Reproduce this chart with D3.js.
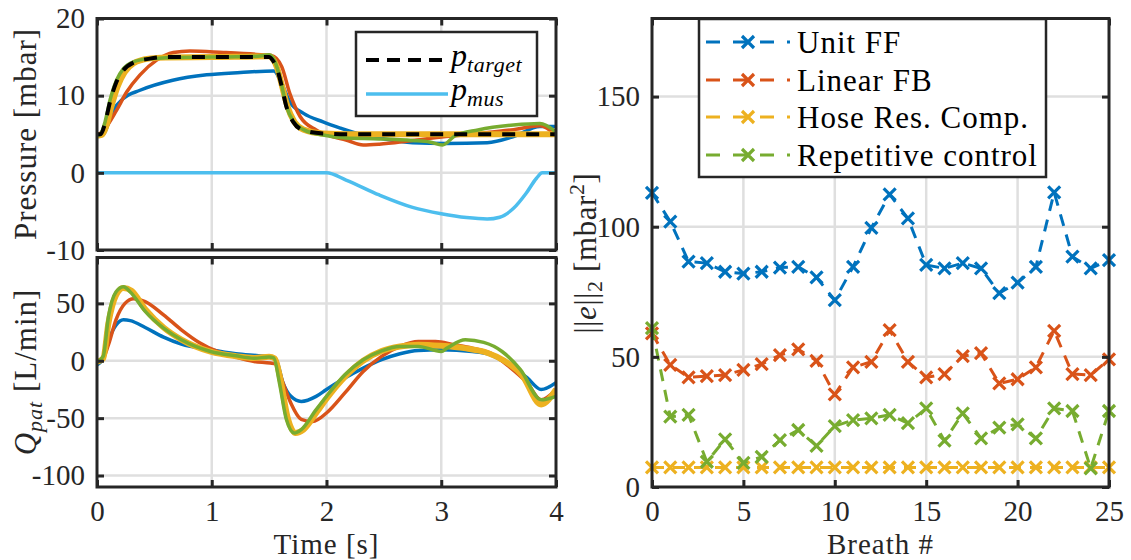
<!DOCTYPE html>
<html>
<head>
<meta charset="utf-8">
<script src="https://cdn.jsdelivr.net/npm/d3@7"></script>
<style>
  html, body { margin: 0; padding: 0; background: #fff; }
  svg { display: block; }
  svg text { font-family: "Liberation Serif", "DejaVu Serif", serif; }
</style>
</head>
<body>
<svg id="chart" width="1131" height="560"></svg>
<script>
// ---- tick labels ----
const timeTicks = [0, 1, 2, 3, 4];
const pressureTicks = [-10, 0, 10, 20];
const pressureTickLabels = ["-10", "0", "10", "20"];
const flowTicks = [-100, -50, 0, 50];
const flowTickLabels = ["-100", "-50", "0", "50"];
const breathTicks = [0, 5, 10, 15, 20, 25];
const errorTicks = [0, 50, 100, 150];

// ---- pressure traces [mbar] over one breath ----
const tTarget = [0, 0.03, 0.07, 0.11, 0.17, 0.23, 0.32, 0.46, 0.6, 1.5, 1.53, 1.57, 1.61, 1.65, 1.71, 1.8, 1.97, 2.2, 4.0];
const pTarget = [5, 5.0, 6.4, 9.0, 11.8, 13.3, 14.3, 14.8, 15, 15, 14.6, 13.4, 11.2, 8.6, 6.6, 5.5, 5.1, 5, 5];

const tPUnit = [0, 0.05, 0.14, 0.23, 0.375, 0.66, 0.956, 1.25, 1.54, 1.62, 1.68, 1.8, 1.97, 2.12, 2.32, 2.46, 2.75, 3.04, 3.4, 3.63, 3.86, 4.0];
const pUnit = [4.8, 4.9, 8.1, 9.65, 10.7, 12.0, 12.7, 13.0, 13.2, 11.2, 9.2, 7.7, 6.6, 5.8, 4.9, 4.5, 3.9, 3.8, 3.9, 4.7, 6.0, 6.0];

const tPLinear = [0, 0.06, 0.17, 0.26, 0.375, 0.52, 0.665, 0.81, 1.1, 1.39, 1.52, 1.61, 1.68, 1.77, 1.91, 2.03, 2.17, 2.32, 2.46, 2.75, 3.04, 3.32, 3.63, 3.86, 4.0];
const pLinear = [4.8, 5.55, 8.1, 10.5, 12.7, 14.6, 15.6, 15.8, 15.6, 15.35, 15.2, 13.75, 10.3, 7.3, 5.55, 4.8, 4.25, 3.6, 3.7, 4.2, 4.7, 5.1, 5.6, 6.1, 4.9];

const tPHose = [0, 0.04, 0.08, 0.12, 0.18, 0.24, 0.32, 0.45, 0.6, 1.0, 1.5, 1.53, 1.57, 1.61, 1.66, 1.72, 1.8, 1.97, 2.2, 3.0, 4.0];
const pHose = [4.8, 4.9, 6.0, 8.3, 11.2, 13.0, 14.2, 14.8, 14.95, 15, 15.1, 14.8, 13.6, 11.4, 8.6, 6.6, 5.6, 5.1, 5.0, 5.0, 5.0];

const tPRep = [0, 0.03, 0.07, 0.113, 0.17, 0.23, 0.32, 0.46, 0.6, 1.0, 1.4, 1.5, 1.53, 1.57, 1.61, 1.65, 1.71, 1.8, 1.97, 2.17, 2.46, 2.75, 2.9, 3.01, 3.12, 3.32, 3.63, 3.86, 4.0];
const pRep = [4.8, 5.0, 6.6, 9.4, 12.0, 13.5, 14.4, 14.8, 14.9, 15.0, 15.1, 15.3, 15.0, 13.6, 11.3, 8.7, 6.7, 5.6, 4.9, 4.5, 4.4, 4.2, 4.0, 3.6, 4.8, 5.55, 6.2, 6.4, 5.3];

const tMus = [0, 2.0, 2.17, 2.46, 2.75, 3.0, 3.22, 3.40, 3.51, 3.63, 3.74, 3.83, 3.88, 4.0];
const pMus = [0, 0, -0.93, -2.87, -4.47, -5.3, -5.8, -5.98, -5.75, -4.6, -2.65, -0.7, 0, 0];

// ---- patient flow [L/min] ----
const tQUnit = [0, 0.04, 0.1, 0.165, 0.23, 0.29, 0.42, 0.58, 0.735, 0.99, 1.21, 1.5, 1.56, 1.62, 1.69, 1.78, 1.91, 2.0, 2.16, 2.32, 2.48, 2.64, 2.8, 3.0, 3.27, 3.43, 3.59, 3.75, 3.87, 4.0];
const qUnit = [-3.5, 0, 18, 31, 35.7, 35, 29, 20.6, 14.5, 9.6, 6.1, 3.2, 1, -19, -31, -35.4, -31, -25, -15, -6.4, 0.9, 6.1, 9, 9.6, 8.1, 5.2, -3.5, -15, -25, -19];

const tQLinear = [0, 0.04, 0.1, 0.165, 0.244, 0.32, 0.42, 0.58, 0.735, 0.89, 1.05, 1.21, 1.37, 1.51, 1.56, 1.62, 1.69, 1.78, 1.88, 2.0, 2.16, 2.32, 2.48, 2.64, 2.8, 2.95, 3.11, 3.27, 3.43, 3.59, 3.75, 3.87, 4.0];
const qLinear = [-1, 0, 14, 35.6, 50, 54, 51.6, 40, 27, 16, 8.1, 3.2, -0.6, -2, -3, -19, -37, -51, -53, -45.5, -28, -9.3, 3.8, 12.5, 16.8, 16.8, 14, 11, 6.7, -5, -19.4, -34, -25];

const tQHose = [0, 0.054, 0.1, 0.165, 0.23, 0.3, 0.42, 0.58, 0.735, 0.99, 1.21, 1.37, 1.5, 1.55, 1.6, 1.66, 1.73, 1.8, 1.92, 2.0, 2.16, 2.32, 2.48, 2.64, 2.8, 3.0, 3.2, 3.4, 3.55, 3.7, 3.87, 4.0];
const qHose = [-1, 2, 33, 57, 63.5, 61, 45, 29, 18.5, 8, 4, 2.5, 3.5, 2, -17, -49, -63, -60, -44, -33, -14, 0, 8.5, 12.5, 14, 13, 11, 7, 0, -12, -38, -25];

const tQRep = [0, 0.054, 0.1, 0.165, 0.23, 0.29, 0.42, 0.58, 0.735, 0.99, 1.21, 1.37, 1.5, 1.54, 1.59, 1.65, 1.72, 1.78, 1.91, 2.0, 2.16, 2.32, 2.48, 2.64, 2.8, 3.0, 3.05, 3.21, 3.37, 3.53, 3.69, 3.87, 4.0];
const qRep = [-1, 3.8, 38.5, 60, 64.6, 60, 43, 28.4, 18.3, 8.1, 4.3, 2.3, 3.2, 2.5, -19.4, -51, -63, -60, -42.6, -31, -12.2, 0.9, 8.7, 12.5, 12.5, 8.1, 11, 18.3, 16, 8.1, -7.8, -34, -31];

// ---- tracking error per breath ----
const breaths = [0, 1, 2, 3, 4, 5, 6, 7, 8, 9, 10, 11, 12, 13, 14, 15, 16, 17, 18, 19, 20, 21, 22, 23, 24, 25];
const errUnitFF = [113, 102, 86.6, 86, 82.7, 82, 82.7, 84.3, 84.6, 80.5, 71.8, 84.6, 99.6, 112.4, 103.2, 85.3, 84, 86, 84, 74.5, 78.5, 84.6, 113.2, 88.5, 84, 87.2];
const errLinearFB = [59, 46.9, 42.1, 42.6, 43, 45, 47.2, 50.7, 52.9, 48.5, 35.6, 46, 48.1, 60.3, 48.1, 42.1, 43.4, 50.3, 51.4, 39.8, 41.4, 46, 60, 43.4, 43, 49];
const errHoseRes = [7.5, 7.5, 7.5, 7.5, 7.5, 7.5, 7.5, 7.5, 7.5, 7.5, 7.5, 7.5, 7.5, 7.5, 7.5, 7.5, 7.5, 7.5, 7.5, 7.5, 7.5, 7.5, 7.5, 7.5, 7.5, 7.5];
const errRepetitive = [61, 27, 27.7, 9.7, 18.3, 9.3, 11.6, 18, 21.9, 15.8, 23.4, 25.7, 26.4, 27.7, 24.5, 30.2, 17.8, 28.3, 18.7, 22.8, 24.1, 18.7, 30.2, 29.2, 7.2, 29.2];

const methodNames = ["Unit FF", "Linear FB", "Hose Res. Comp.", "Repetitive control"];
const methodColors = ["#0072BD", "#D95319", "#EDB120", "#77AC30"];
const musColor = "#4DBEEE";

// ---- layout ----
const FONT = "Liberation Serif";
const svg = d3.select("#chart").attr("font-family", FONT);
const AX = "#262626", GRID = "#dfdfdf";

const xT = d3.scaleLinear().domain([0, 4]).range([97, 556]);
const yP = d3.scaleLinear().domain([-10, 20]).range([250, 18.5]);
const yQ = d3.scaleLinear().domain([-110, 90]).range([487, 257.5]);
const xB = d3.scaleLinear().domain([0, 25]).range([652, 1109]);
const yE = d3.scaleLinear().domain([0, 180]).range([487, 18.5]);

function zip(t, v) { return t.map((d, i) => [d, v[i]]); }

function panel(xs, ys, xt, yt) {
  const g = svg.append("g");
  const [x0, x1] = xs.range(), [y0, y1] = ys.range();
  g.append("g").selectAll("line").data(xt.filter(d => d > xs.domain()[0] && d < xs.domain()[1]))
    .join("line").attr("x1", d => xs(d)).attr("x2", d => xs(d)).attr("y1", y0).attr("y2", y1)
    .attr("stroke", GRID).attr("stroke-width", 2.5);
  g.append("g").selectAll("line").data(yt.filter(d => d > ys.domain()[0] && d < ys.domain()[1]))
    .join("line").attr("y1", d => ys(d)).attr("y2", d => ys(d)).attr("x1", x0).attr("x2", x1)
    .attr("stroke", GRID).attr("stroke-width", 2.5);
  return g;
}

function frame(xs, ys, xt, yt, yLabels, showX) {
  const [x0, x1] = xs.range(), [y0, y1] = ys.range();
  const left = svg.append("g").attr("transform", `translate(${x0},0)`)
    .call(d3.axisLeft(ys).tickValues(yt).tickFormat((d, i) => yLabels[i]).tickSizeInner(-7).tickSizeOuter(0).tickPadding(12));
  const right = svg.append("g").attr("transform", `translate(${x1},0)`)
    .call(d3.axisRight(ys).tickValues(yt).tickFormat("").tickSizeInner(-7).tickSizeOuter(0));
  const top = svg.append("g").attr("transform", `translate(0,${y1})`)
    .call(d3.axisTop(xs).tickValues(xt).tickFormat("").tickSizeInner(-7).tickSizeOuter(0));
  const bottom = svg.append("g").attr("transform", `translate(0,${y0})`)
    .call(d3.axisBottom(xs).tickValues(xt).tickFormat(showX ? (d => String(d)) : "").tickSizeInner(-7).tickSizeOuter(0).tickPadding(13));
  [left, right, top, bottom].forEach(a => {
    a.attr("font-family", FONT).attr("font-size", 29);
    a.select(".domain").remove();
    a.selectAll(".tick line").attr("stroke", AX).attr("stroke-width", 3);
    a.selectAll(".tick text").attr("fill", AX);
  });
  svg.append("rect").attr("x", x0).attr("y", y1).attr("width", x1 - x0).attr("height", y0 - y1)
    .attr("fill", "none").attr("stroke", AX).attr("stroke-width", 3);
}

function clipFor(id, xs, ys) {
  const [x0, x1] = xs.range(), [y0, y1] = ys.range();
  svg.append("clipPath").attr("id", id).append("rect")
    .attr("x", x0).attr("y", y1).attr("width", x1 - x0).attr("height", y0 - y1);
}

// ---------- top-left: airway pressure ----------
panel(xT, yP, timeTicks, pressureTicks);
clipFor("clipP", xT, yP);
const lineP = d3.line().x(d => xT(d[0])).y(d => yP(d[1])).curve(d3.curveMonotoneX);
const gP = svg.append("g").attr("clip-path", "url(#clipP)");
const pSeries = [
  { d: zip(tPUnit, pUnit), c: methodColors[0], w: 3.5 },
  { d: zip(tPLinear, pLinear), c: methodColors[1], w: 3.5 },
  { d: zip(tPHose, pHose), c: methodColors[2], w: 6 },
  { d: zip(tPRep, pRep), c: methodColors[3], w: 3.5 },
];
pSeries.forEach(s => gP.append("path").attr("d", lineP(s.d)).attr("fill", "none")
  .attr("stroke", s.c).attr("stroke-width", s.w).attr("stroke-linejoin", "round"));
gP.append("path").attr("d", lineP(zip(tTarget, pTarget))).attr("fill", "none")
  .attr("stroke", "#000").attr("stroke-width", 4).attr("stroke-dasharray", "13,11");
gP.append("path").attr("d", lineP(zip(tMus, pMus))).attr("fill", "none")
  .attr("stroke", musColor).attr("stroke-width", 3.5);
frame(xT, yP, timeTicks, pressureTicks, pressureTickLabels, false);

// legend for the pressure panel
const lgP = svg.append("g");
lgP.append("rect").attr("x", 356).attr("y", 32).attr("width", 181).attr("height", 84)
  .attr("fill", "#fff").attr("stroke", AX).attr("stroke-width", 2.5);
lgP.append("line").attr("x1", 366).attr("x2", 448).attr("y1", 60).attr("y2", 60)
  .attr("stroke", "#000").attr("stroke-width", 4).attr("stroke-dasharray", "13,8");
lgP.append("line").attr("x1", 366).attr("x2", 448).attr("y1", 94).attr("y2", 94)
  .attr("stroke", musColor).attr("stroke-width", 3.5);
function subLabel(g, x, y, main, sub) {
  const t = g.append("text").attr("x", x).attr("y", y).attr("font-size", 32).attr("fill", "#000")
    .style("font-style", "italic");
  t.append("tspan").text(main);
  t.append("tspan").attr("font-size", 22).attr("dy", 6).attr("letter-spacing", 0.6).text(sub);
  return t;
}
subLabel(lgP, 451, 66, "p", "target");
subLabel(lgP, 451, 100, "p", "mus");

// ---------- bottom-left: patient flow ----------
panel(xT, yQ, timeTicks, flowTicks);
clipFor("clipQ", xT, yQ);
const lineQ = d3.line().x(d => xT(d[0])).y(d => yQ(d[1])).curve(d3.curveMonotoneX);
const gQ = svg.append("g").attr("clip-path", "url(#clipQ)");
const qSeries = [
  { d: zip(tQUnit, qUnit), c: methodColors[0], w: 3.5 },
  { d: zip(tQLinear, qLinear), c: methodColors[1], w: 3.5 },
  { d: zip(tQHose, qHose), c: methodColors[2], w: 6 },
  { d: zip(tQRep, qRep), c: methodColors[3], w: 3.5 },
];
qSeries.forEach(s => gQ.append("path").attr("d", lineQ(s.d)).attr("fill", "none")
  .attr("stroke", s.c).attr("stroke-width", s.w).attr("stroke-linejoin", "round"));
frame(xT, yQ, timeTicks, flowTicks, flowTickLabels, true);

// axis titles, left column
svg.append("text").attr("transform", "translate(36,134) rotate(-90)").attr("text-anchor", "middle")
  .attr("font-size", 31).attr("letter-spacing", 1).attr("fill", AX).text("Pressure [mbar]");
const qLab = svg.append("text").attr("transform", "translate(36,372) rotate(-90)").attr("text-anchor", "middle")
  .attr("font-size", 31).attr("letter-spacing", 1).attr("fill", AX);
qLab.append("tspan").style("font-style", "italic").text("Q");
qLab.append("tspan").style("font-style", "italic").attr("font-size", 22).attr("dy", 6).text("pat");
qLab.append("tspan").attr("dy", -6).text(" [L/min]");
svg.append("text").attr("x", 326.5).attr("y", 553.5).attr("text-anchor", "middle")
  .attr("font-size", 29).attr("letter-spacing", 1).attr("fill", AX).text("Time [s]");

// ---------- right: tracking error per breath ----------
panel(xB, yE, breathTicks, errorTicks);
const errSets = [errUnitFF, errLinearFB, errHoseRes, errRepetitive];
const lineE = d3.line().x(d => xB(d[0])).y(d => yE(d[1]));
const xMark = s => `M${-s},${-s}L${s},${s}M${-s},${s}L${s},${-s}`;
errSets.forEach((vals, k) => {
  const pts = zip(breaths, vals);
  const g = svg.append("g");
  g.append("path").attr("d", lineE(pts)).attr("fill", "none").attr("stroke", methodColors[k])
    .attr("stroke-width", 3).attr("stroke-dasharray", "12,9");
  g.selectAll("path.mk").data(pts).join("path").attr("class", "mk")
    .attr("transform", d => `translate(${xB(d[0])},${yE(d[1])})`)
    .attr("d", xMark(6)).attr("stroke", methodColors[k]).attr("stroke-width", 3.2).attr("fill", "none");
});
frame(xB, yE, breathTicks, errorTicks, errorTicks.map(String), true);

// legend for the error panel
const lgE = svg.append("g");
lgE.append("rect").attr("x", 699).attr("y", 19).attr("width", 347).attr("height", 158)
  .attr("fill", "#fff").attr("stroke", AX).attr("stroke-width", 2.5);
const rowY = [42, 80, 117, 155];
methodNames.forEach((name, k) => {
  lgE.append("line").attr("x1", 706).attr("x2", 790).attr("y1", rowY[k]).attr("y2", rowY[k])
    .attr("stroke", methodColors[k]).attr("stroke-width", 3).attr("stroke-dasharray", "14,13");
  lgE.append("path").attr("transform", `translate(748,${rowY[k]})`).attr("d", xMark(6))
    .attr("stroke", methodColors[k]).attr("stroke-width", 3.2).attr("fill", "none");
  lgE.append("text").attr("x", 797).attr("y", rowY[k] + 11).attr("font-size", 31).attr("letter-spacing", 1)
    .attr("fill", "#000").text(name);
});

// axis titles, right column
const eLab = svg.append("text").attr("transform", "translate(596,253) rotate(-90)").attr("text-anchor", "middle")
  .attr("font-size", 31).attr("letter-spacing", 0.6).attr("fill", AX);
eLab.append("tspan").text("||");
eLab.append("tspan").style("font-style", "italic").text("e");
eLab.append("tspan").text("||");
eLab.append("tspan").attr("font-size", 22).attr("dy", 6).text("2");
eLab.append("tspan").attr("dy", -6).text(" [mbar");
eLab.append("tspan").attr("font-size", 22).attr("dy", -12).text("2");
eLab.append("tspan").attr("dy", 12).text("]");
svg.append("text").attr("x", 880.5).attr("y", 553.5).attr("text-anchor", "middle")
  .attr("font-size", 29).attr("letter-spacing", 1).attr("fill", AX).text("Breath #");
</script>
</body>
</html>
